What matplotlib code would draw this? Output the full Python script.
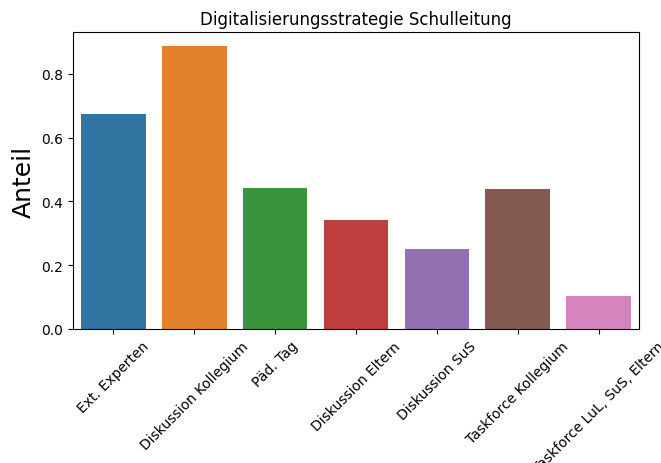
import matplotlib
matplotlib.use("Agg")
import matplotlib.pyplot as plt
import seaborn as sns

categories = ["Ext. Experten", "Diskussion Kollegium", "Päd. Tag", "Diskussion Eltern",
              "Diskussion SuS", "Taskforce Kollegium", "Taskforce LuL, SuS, Eltern"]
values = [0.673, 0.887, 0.443, 0.341, 0.252, 0.439, 0.103]

fig = plt.figure(figsize=(6.61, 4.64), dpi=100)
ax = fig.add_axes([73/661, 1-330/464, (639-73)/661, (330-33)/464])
sns.barplot(x=categories, y=values, hue=categories, palette="tab10", saturation=0.75,
            legend=False, ax=ax)
ax.set_title("Digitalisierungsstrategie Schulleitung")
ax.set_ylabel("Anteil", fontsize=18)
ax.set_yticks([0.0, 0.2, 0.4, 0.6, 0.8])
ax.tick_params(axis="x", labelrotation=45)
fig.savefig("out.png", dpi=100)
